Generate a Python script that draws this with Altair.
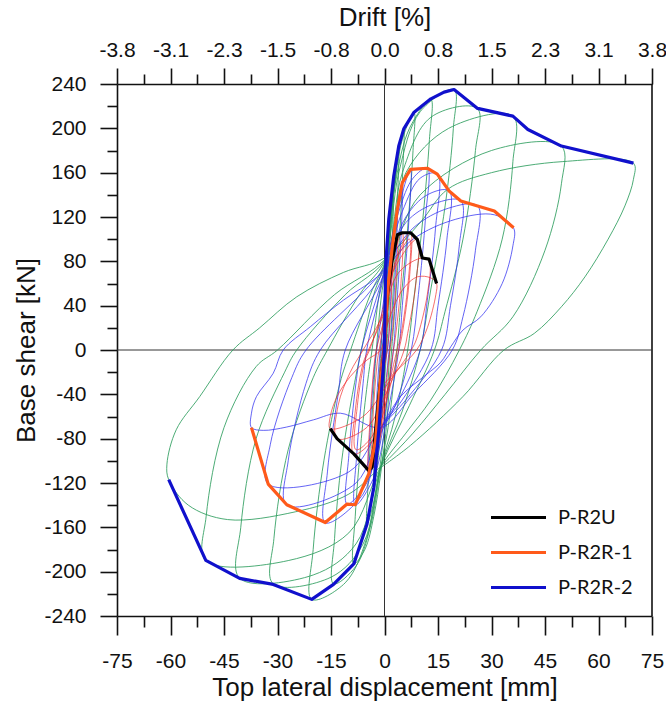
import json
import altair as alt
import pandas as pd

# ---------------- tick labels ----------------
disp_major = [-75, -60, -45, -30, -15, 0, 15, 30, 45, 60, 75]
disp_labels = ["-75", "-60", "-45", "-30", "-15", "0", "15", "30", "45", "60", "75"]
drift_labels = ["-3.8", "-3.1", "-2.3", "-1.5", "-0.8", "0.0", "0.8", "1.5", "2.3", "3.1", "3.8"]
shear_major = [-240, -200, -160, -120, -80, -40, 0, 40, 80, 120, 160, 200, 240]
shear_labels = ["-240", "-200", "-160", "-120", "-80", "-40", "0", "40", "80", "120", "160", "200", "240"]

series_names = ["P-R2U", "P-R2R-1", "P-R2R-2"]
series_colors = ["#000000", "#ff5a1a", "#1010cc"]

# ---------------- envelopes (thick) ----------------
env_u_x = [-15.2, -13.3, -8.6, -4.4, -3.5, -1.6, 0.0, 0.8, 2.2, 3.6, 5.0, 7.3, 9.2, 10.6, 12.5, 14.6]
env_u_y = [-71, -80, -93.7, -108.8, -105.8, -42, 0, 51, 81.6, 104, 105.8, 105.8, 99.7, 83, 82, 60]

env_r1_x = [-37.3, -32.6, -27.4, -16.6, -10.5, -8.2, -4.4, -2.5, -1.1, 0.0, 0.8, 2.2, 3.6, 5.0, 7.3,
            12.0, 14.8, 18.1, 21.4, 26.1, 30.8, 36.2]
env_r1_y = [-70, -121, -139.6, -155.7, -139, -139.6, -111.8, -81.6, -27, 0, 51, 93.7, 127, 151, 163,
            164, 158.7, 143.5, 134.5, 130, 125.4, 110.3]

env_r2_x = [-60.5, -50.1, -40.6, -31.2, -20.4, -14.3, -8.6, -4.9, -3.0, -1.6, 0.0, 0.3, 1.2, 2.6, 4.0,
            5.4, 8.3, 13.0, 16.7, 19.5, 26.1, 36.0, 40.2, 49.6, 69.8]
env_r2_y = [-117, -189.8, -206, -211.5, -225, -211.5, -193, -157, -124, -72.5, 0, 75, 118, 157, 184,
            199.5, 214.6, 226.6, 232.7, 235, 218, 211, 199, 184, 168.6]

# ---------------- hysteresis loops (thin) ----------------
green_pts = [
    (0, 0), (0.6, 60), (1.2, 118), (0.9, 60), (0.3, 0), (-0.5, -35), (-1.6, -72), (-1.2, -30), (-0.5, 0), (0.3, 40),
    (1.5, 100), (2.6, 157), (2.3, 110), (1.3, 40), (0.6, 0), (-0.5, -50), (-1.7, -95), (-3.0, -124), (-2.6, -85),
    (-1.6, -30), (-1.0, 0), (0, 45),
    (1.5, 100), (2.8, 150), (4.0, 184), (3.7, 140), (2.7, 70), (1.5, 0), (0.3, -60), (-1.5, -110), (-3.2, -140),
    (-4.9, -157), (-4.5, -115), (-3.3, -50), (-2.3, 0), (-1.0, 45), (0.5, 80),
    (2.5, 140), (4.0, 180), (5.4, 199), (5.1, 160), (4.0, 90), (2.5, 20), (2.0, 0), (0.5, -70), (-1.0, -110),
    (-3.0, -150), (-5.5, -180), (-8.6, -193), (-8.2, -150), (-6.5, -80), (-4.8, -30), (-3.5, 0), (-1.5, 50), (0.5, 83),
    (2.5, 140), (5.0, 190), (8.3, 214), (8.0, 180), (6.5, 110), (4.5, 40), (3.5, 0), (1.0, -70), (-1.0, -105),
    (-4.0, -160), (-8.0, -195), (-14.3, -211), (-14.0, -170), (-12.0, -100), (-9.0, -40), (-6.5, 0), (-3.0, 50), (0.5, 83),
    (3.0, 150), (7.0, 200), (13.0, 226), (12.6, 190), (10.5, 110), (8.0, 40), (6.5, 0), (3.0, -60), (-1.0, -105),
    (-5.0, -170), (-11.0, -210), (-20.4, -225), (-20.0, -180), (-17.0, -100), (-12.5, -30), (-9.5, 0), (-4.0, 50), (0.5, 83),
    (4.0, 160), (10.0, 215), (19.5, 235), (19.3, 200), (17.0, 130), (13.0, 55), (10.0, 0), (5.0, -55), (-1.0, -105),
    (-6.0, -175), (-15.0, -205), (-31.2, -211), (-31.0, -170), (-27.0, -90), (-20.0, -25), (-16.0, 0), (-7.0, 50), (0.5, 83),
    (5.0, 160), (13.0, 210), (26.0, 218), (25.5, 180), (22.0, 100), (17.0, 35), (14.0, 0), (7.0, -50), (-1.0, -105),
    (-8.0, -175), (-20.0, -203), (-40.6, -206), (-40.3, -160), (-36.0, -80), (-28.0, -20), (-24.6, 0), (-11.0, 50), (0.5, 83),
    (6.0, 160), (18.0, 200), (36.0, 211), (36.0, 170), (33.0, 100), (26.0, 35), (21.0, 0), (13.0, -45), (6.0, -75), (-1.0, -105),
    (-10.0, -165), (-27.0, -190), (-50.1, -190), (-50.0, -150), (-45.0, -70), (-36.0, -15), (-30.0, 0), (-14.0, 50), (0.5, 83),
    (10.0, 140), (30.0, 180), (49.6, 184), (49.6, 150), (45.0, 90), (36.0, 30), (27.0, 0), (17.0, -40), (8.0, -75), (-1.0, -105),
    (-10.0, -130), (-25.0, -146), (-44.0, -153), (-55.0, -140), (-60.5, -117), (-61.0, -103), (-58.4, -72), (-51.8, -42),
    (-42.5, 0), (-35.0, 20), (-24.6, 48), (-11.5, 70), (0.0, 83),
    (10.0, 115), (17.7, 145), (30.0, 160), (50.0, 170), (69.8, 168.6), (69.8, 154), (67.4, 130), (62.7, 100), (56.2, 66),
    (49.6, 39), (42.0, 15), (33.5, 0), (22.0, -42), (7.3, -86), (-1.0, -106),
]

blue_pts = [
    (0, 0), (1.0, 45), (2.2, 94), (1.8, 50), (0.8, 0), (-0.3, -15), (-1.1, -27), (-0.7, 0), (0.3, 30),
    (2.0, 80), (3.6, 127), (3.2, 80), (2.0, 20), (1.3, 0), (0.0, -40), (-1.3, -68), (-2.5, -82), (-2.2, -45), (-1.2, 0), (0.3, 40),
    (2.5, 100), (5.0, 151), (4.6, 100), (3.2, 30), (2.5, 0), (0.5, -50), (-2.0, -95), (-4.4, -112), (-4.0, -70), (-2.8, -15),
    (-2.2, 0), (0.0, 50),
    (3.0, 115), (7.3, 163), (6.8, 115), (5.0, 40), (4.0, 0), (1.0, -55), (-3.0, -115), (-8.2, -140), (-7.8, -95), (-6.0, -30),
    (-5.0, 0), (-1.0, 55),
    (4.0, 125), (8.0, 155), (12.0, 164), (11.5, 120), (9.5, 50), (7.5, 0), (3.0, -50), (-1.0, -75), (-5.0, -120), (-10.5, -139),
    (-10.0, -95), (-8.0, -30), (-6.5, 0), (-1.0, 60),
    (5.0, 125), (10.0, 155), (14.8, 159), (14.3, 110), (12.0, 45), (10.0, 0), (4.0, -45), (-1.0, -72), (-6.0, -130), (-16.6, -156),
    (-16.0, -110), (-13.0, -40), (-11.0, 0), (-1.0, 62),
    (6.0, 120), (12.0, 140), (18.1, 143.5), (17.5, 100), (15.0, 40), (13.0, 0), (5.0, -45), (-1.0, -70), (-8.0, -120),
    (-27.4, -140), (-27.0, -100), (-22.0, -30), (-18.0, 0), (-1.5, 64),
    (6.0, 115), (14.0, 132), (21.4, 134.5), (21.0, 95), (18.5, 40), (16.0, 0), (6.0, -45), (-1.0, -70), (-10.0, -110),
    (-32.6, -121), (-32.0, -85), (-26.0, -25), (-22.0, 0), (-2.0, 66),
    (8.0, 110), (18.0, 128), (26.1, 130), (25.5, 90), (22.0, 30), (19.0, 0), (8.0, -40), (-1.0, -70), (-12.4, -57),
    (-19.9, -63), (-27.4, -69.5), (-34.0, -72.5), (-37.3, -70), (-37.3, -57), (-35.9, -42), (-31.2, -21), (-28.4, 0),
    (-20.8, 21), (-11.5, 45), (-2.0, 66),
    (8.0, 100), (20.0, 118), (30.8, 122), (36.2, 110), (36.0, 94), (33.0, 60), (27.0, 30), (22.0, 18), (18.6, 3),
    (15.8, -11), (11.0, -24), (4.5, -42), (-1.0, -70),
]

red_pts = [
    (0, 0), (1.0, 40), (2.2, 81.6), (1.8, 40), (0.8, 0), (-0.6, -25), (-1.6, -42), (-1.2, -15), (-0.5, 0),
    (0.8, 40), (2.0, 80), (3.6, 104), (3.2, 60), (2.0, 10), (1.5, 0), (0.0, -45), (-2.0, -90), (-3.5, -106), (-3.2, -60),
    (-2.0, -10), (-1.5, 0),
    (0.5, 40), (2.5, 85), (5.0, 106), (4.6, 60), (3.0, 10), (2.5, 0), (0.5, -45), (-2.0, -90), (-4.4, -109), (-4.0, -60),
    (-2.8, -10), (-2.3, 0),
    (0.0, 30), (3.0, 80), (7.3, 106), (7.0, 65), (5.0, 15), (4.0, 0), (1.0, -40), (-3.0, -80), (-8.6, -94), (-8.2, -55),
    (-6.0, -12), (-4.5, 0),
    (-0.5, 30), (3.5, 82), (7.0, 100), (6.6, 60), (4.5, 12), (3.5, 0), (0.5, -40), (-3.5, -78), (-8.0, -90), (-7.6, -50),
    (-5.5, -10), (-4.2, 0),
    (-1.0, 30), (3.0, 75), (9.2, 100), (8.8, 60), (6.5, 15), (5.5, 0), (1.0, -35), (-5.0, -70), (-13.3, -80), (-13.0, -50),
    (-9.6, -20), (-6.0, 0),
    (-1.0, 28), (4.0, 70), (10.6, 83), (12.5, 80), (12.0, 50), (9.0, 10), (7.5, 0), (1.0, -30), (-6.0, -60), (-15.2, -71),
    (-15.2, -60), (-13.3, -42), (-9.6, -24), (-4.9, -9), (-1.1, 0),
    (1.0, 25), (5.0, 54), (9.2, 66), (13.0, 65), (14.6, 60), (14.4, 50), (12.0, 20), (9.0, 0), (3.0, -20), (0.0, -30),
]


def path_df(pts):
    return pd.DataFrame({"d": [p[0] for p in pts], "v": [p[1] for p in pts], "i": list(range(len(pts)))})


env_df = pd.concat([
    pd.DataFrame({"d": env_u_x, "v": env_u_y, "series": "P-R2U", "i": range(len(env_u_x))}),
    pd.DataFrame({"d": env_r1_x, "v": env_r1_y, "series": "P-R2R-1", "i": range(len(env_r1_x))}),
    pd.DataFrame({"d": env_r2_x, "v": env_r2_y, "series": "P-R2R-2", "i": range(len(env_r2_x))}),
], ignore_index=True)

# ---------------- scales / axes ----------------
FONT = "Liberation Sans"
INK = "#111111"
x_vals = [-75 + 7.5 * k for k in range(21)]
y_vals = [-240 + 20 * k for k in range(25)]


def xs():
    return alt.Scale(domain=[-75, 75], nice=False, zero=False)


yscale = alt.Scale(domain=[-240, 240], nice=False, zero=False)

common = dict(grid=False, labelFont=FONT, labelFontSize=21, labelColor=INK, labelFlush=False, labelOverlap=False,
              titleFont=FONT, titleFontSize=26, titleFontWeight="normal", titleColor=INK,
              domainColor=INK, domainWidth=1.6, tickColor=INK, tickWidth=1.6)

bottom_axis = alt.Axis(
    orient="bottom", values=x_vals,
    labelExpr="datum.value % 15 == 0 ? " + json.dumps(disp_labels) + "[round((datum.value + 75) / 15)] : ''",
    tickSize={"condition": {"test": "datum.value % 15 == 0", "value": 19}, "value": 11},
    title="Top lateral displacement [mm]", titlePadding=3, labelPadding=15, **common,
)
top_axis = alt.Axis(
    orient="top", values=x_vals,
    labelExpr="datum.value % 15 == 0 ? " + json.dumps(drift_labels) + "[round((datum.value + 75) / 15)] : ''",
    tickSize={"condition": {"test": "datum.value % 15 == 0", "value": 16}, "value": 10},
    title="Drift [%]", titlePadding=9, labelPadding=8, **common,
)
left_axis = alt.Axis(
    orient="left", values=y_vals,
    labelExpr="datum.value % 40 == 0 ? " + json.dumps(shear_labels) + "[round((datum.value + 240) / 40)] : ''",
    tickSize={"condition": {"test": "datum.value % 40 == 0", "value": 17}, "value": 10},
    title="Base shear [kN]", titlePadding=4, labelPadding=14, **common,
)


def Y():
    return alt.Y("v:Q", scale=yscale, axis=left_axis)


# ---------------- layers ----------------
zero_v = alt.Chart(pd.DataFrame({"d": [0]})).mark_rule(color="#333", strokeWidth=1).encode(
    x=alt.X("d:Q", scale=xs(), axis=top_axis))
right_frame = alt.Chart(pd.DataFrame({"d": [75]})).mark_rule(color=INK, strokeWidth=1.6).encode(
    x=alt.X("d:Q", scale=xs(), axis=None))
zero_h = alt.Chart(pd.DataFrame({"v": [0]})).mark_rule(color="#333", strokeWidth=1).encode(y=Y())


def thin(pts, color, opacity, axis=None):
    return alt.Chart(path_df(pts)).mark_line(
        color=color, strokeWidth=1, opacity=opacity, interpolate="catmull-rom"
    ).encode(
        x=alt.X("d:Q", scale=xs(), axis=axis),
        y=Y(),
        order="i:Q",
    )


green = thin(green_pts, "#2e9e5e", 0.85, bottom_axis)
blue = thin(blue_pts, "#3030f0", 0.75)
red = thin(red_pts, "#f02020", 0.65)

env = alt.Chart(env_df).mark_line(strokeWidth=3.2, strokeJoin="round").encode(
    x=alt.X("d:Q", scale=xs(), axis=None),
    y=Y(),
    color=alt.Color(
        "series:N",
        scale=alt.Scale(domain=series_names, range=series_colors),
        legend=alt.Legend(
            orient="none", legendX=389, legendY=421, title=None, padding=0,
            symbolType="M-2.5,0H2.5", symbolSize=484, symbolStrokeWidth=3,
            labelFont="Lato", labelFontSize=20, labelColor=INK, labelOffset=27, rowPadding=12,
        ),
    ),
    order="i:Q",
)

chart = alt.layer(zero_v, right_frame, zero_h, green, blue, red, env).resolve_scale(x="independent").properties(
    width=535, height=532,
    padding={"left": 117, "top": 84, "right": 14, "bottom": 89},
    autosize=alt.AutoSizeParams(type="none"),
).configure_view(stroke=None)

chart.save("out.html", embed_options={"renderer": "svg", "actions": False})
